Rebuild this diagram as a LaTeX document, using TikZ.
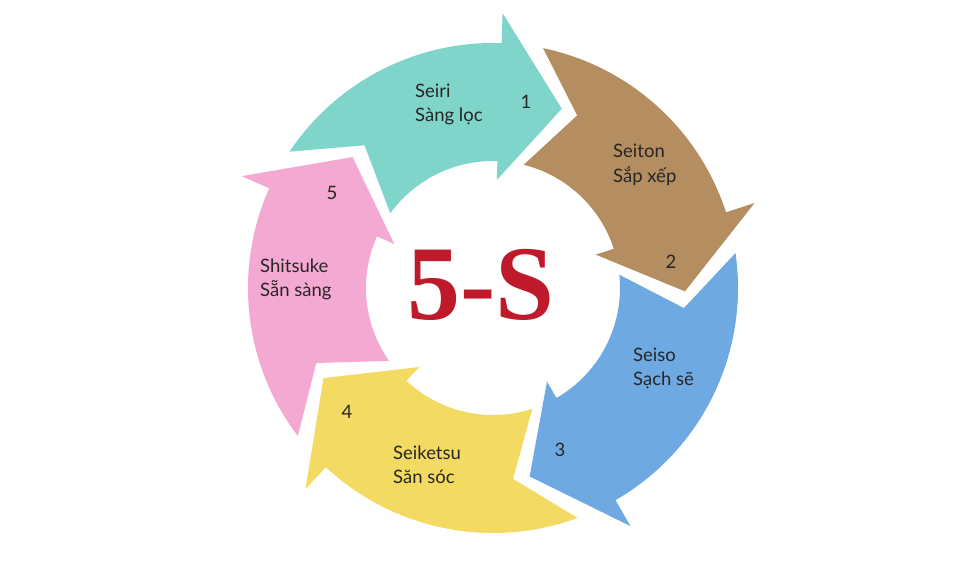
\documentclass[tikz,border=0pt]{standalone}
\usepackage{fontspec}
\setmainfont{Lato}
\newfontfamily\fivesfont{Liberation Serif}
\definecolor{cteal}{HTML}{80D5CB}
\definecolor{cbrown}{HTML}{B48D60}
\definecolor{cblue}{HTML}{6FA9E1}
\definecolor{cyellow}{HTML}{F3DA62}
\definecolor{cpink}{HTML}{F4A9D3}
\definecolor{cred}{HTML}{BE1A2C}
\definecolor{ctext}{HTML}{262626}
% #1 colour, #2 tip angle, #3 angular distance to previous tip
\newcommand{\segarrow}[3]{%
  \begin{scope}[rotate=#2]
    \pgfmathsetmacro\segao{#3+9.2}
    \pgfmathsetmacro\segan{#3-5}
    \pgfmathsetmacro\segai{#3+7}
    \fill[#1] (0:192pt) -- (19:275pt) -- (19:245pt)
      arc[start angle=19,end angle=\segao,radius=245pt]
      -- (\segan:192pt) -- (\segai:127pt)
      arc[start angle=\segai,end angle=19,radius=127pt]
      -- (19:108pt) -- cycle;
  \end{scope}}
\tikzset{
  lbl/.style={anchor=west,align=left,inner sep=0pt,text=ctext,
    font=\fontsize{18.5}{24.5}\selectfont},
  num/.style={inner sep=0pt,text=ctext,font=\fontsize{18.5}{22}\selectfont},
  title/.style={inner sep=0pt,text=cred,font=\fivesfont\bfseries\fontsize{106}{110}\selectfont}
}
\begin{document}
\begin{tikzpicture}[x=1pt,y=1pt]
\useasboundingbox (0,0) rectangle (960,560);
\fill[white] (0,0) rectangle (960,560);
\begin{scope}[shift={(493,272)}]
  \segarrow{cteal}{69}{68}
  \segarrow{cbrown}{-1}{70}
  \segarrow{cblue}{-79}{78}
  \segarrow{cyellow}{-152}{73}
  \segarrow{cpink}{137}{71}
\end{scope}
\node[lbl] (seiri) at (415,455.5) {Seiri\\Sàng lọc};
\node[lbl] (seiton) at (613,395) {Seiton\\Sắp xếp};
\node[lbl] (seiso) at (633,191.5) {Seiso\\Sạch sẽ};
\node[lbl] (seiketsu) at (393,95) {Seiketsu\\Săn sóc};
\node[lbl] (shitsuke) at (260,280.5) {Shitsuke\\Sẵn sàng};
\node[num] (n1) at (526,458) {1};
\node[num] (n2) at (671,298) {2};
\node[num] (n3) at (560,110) {3};
\node[num] (n4) at (347,148) {4};
\node[num] (n5) at (332,367) {5};
\node[title] (fives) at (481,275) {5-S};
\end{tikzpicture}
\end{document}
